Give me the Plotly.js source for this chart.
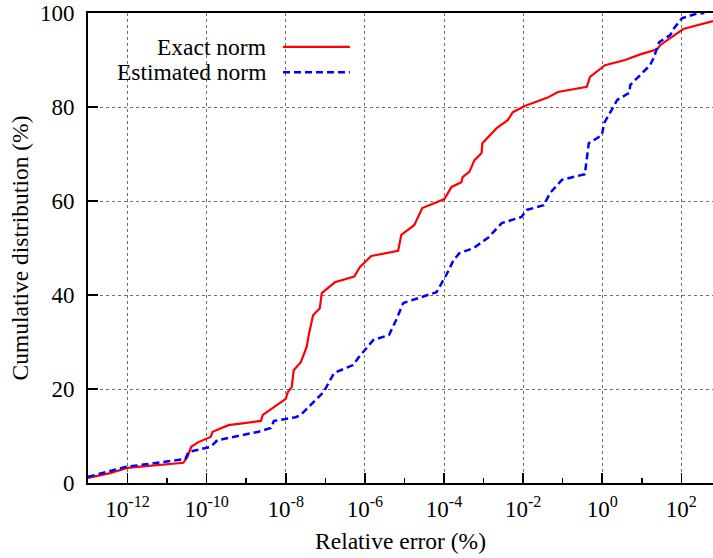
<!DOCTYPE html>
<html>
<head>
<meta charset="utf-8">
<script src="https://cdn.plot.ly/plotly-3.0.1.min.js"></script>
<style>html,body{margin:0;padding:0;background:#fff;}#chart{width:713px;height:558px;}</style>
</head>
<body>
<div id="chart"></div>
<script>
// Relative error given as decade exponent (log10 of %), cumulative distribution in %
const exactLogErr = [-13.0,-12.44,-12.01,-10.59,-10.49,-10.39,-10.21,-9.90,-9.85,-9.45,-8.63,-8.58,-8.00,-7.95,-7.85,-7.80,-7.62,-7.47,-7.42,-7.31,-7.14,-7.09,-6.76,-6.27,-6.12,-5.84,-5.16,-5.08,-4.75,-4.68,-4.55,-3.99,-3.81,-3.56,-3.53,-3.36,-3.23,-3.05,-3.03,-2.67,-2.39,-2.26,-1.96,-1.38,-1.12,-0.39,-0.31,0.07,0.58,0.96,1.39,1.47,2.05,2.8];
const exactCum = [1.1,2.1,3.2,4.3,5.5,7.7,8.7,9.8,10.9,12.3,13.2,14.5,17.9,19.3,20.4,24.0,25.7,29.0,31.5,35.7,37.2,40.4,42.7,43.9,46.0,48.3,49.4,52.8,54.9,56.2,58.5,60.4,63.0,64.0,65.1,66.2,68.7,70.2,72.3,75.5,77.2,78.9,80.2,82.0,83.2,84.3,86.4,88.9,90.0,91.2,92.3,93.2,96.6,98.3];
const estLogErr = [-13.0,-12.57,-12.06,-10.54,-10.46,-9.90,-9.73,-8.69,-8.38,-8.30,-7.75,-7.62,-7.37,-7.04,-6.78,-6.30,-6.17,-5.79,-5.39,-5.21,-5.03,-4.65,-4.19,-3.94,-3.76,-3.61,-3.25,-2.87,-2.54,-2.04,-1.91,-1.48,-1.32,-1.02,-0.44,-0.34,-0.21,-0.01,0.05,0.38,0.68,0.71,1.21,1.31,1.39,1.44,1.72,1.82,2.02,2.36,2.58];
const estCum = [1.3,2.3,3.4,5.1,6.6,7.7,9.1,10.9,11.7,13.2,14.0,14.5,16.6,19.4,23.4,25.1,26.6,30.4,31.5,34.7,38.3,39.4,40.6,44.3,47.4,48.9,50.0,52.3,55.3,56.6,58.1,59.1,61.7,64.5,65.7,72.3,73.0,74.0,76.6,81.5,83.0,84.7,88.9,90.6,92.8,93.8,95.3,96.8,98.9,99.8,100];
const seriesNames = ["Exact norm", "Estimated norm"];
const xMajorExp = [-12, -10, -8, -6, -4, -2, 0, 2];
const xTickText = ["10<sup>-12</sup>","10<sup>-10</sup>","10<sup>-8</sup>","10<sup>-6</sup>","10<sup>-4</sup>","10<sup>-2</sup>","10<sup>0</sup>","10<sup>2</sup>"];
const xMinorExp = [-13, -11, -9, -7, -5, -3, -1, 1];
const yTickVals = [0, 20, 40, 60, 80, 100];

const toVal = a => a.map(e => Math.pow(10, e));
const FONT = "'Liberation Serif', 'Times New Roman', serif";
const FS = 23.5, TFS = 23;

const traces = [
  {x: toVal(exactLogErr), y: exactCum, name: seriesNames[0], mode: "lines",
   line: {color: "#ff0000", width: 2.2}, showlegend: false},
  {x: toVal(estLogErr), y: estCum, name: seriesNames[1], mode: "lines",
   line: {color: "#0000ff", width: 2.5, dash: "7px,4px"}, showlegend: false}
];

const legX0 = 0.312, legX1 = 0.419, legY = [0.928, 0.874];
const layout = {
  width: 713, height: 558,
  margin: {l: 88, r: 0, t: 13, b: 75},
  paper_bgcolor: "#fff", plot_bgcolor: "#fff",
  font: {family: FONT, size: FS, color: "#000"},
  xaxis: {
    type: "log", range: [-13, 2.8],
    tickmode: "array", tickvals: toVal(xMajorExp), ticktext: xTickText,
    ticks: "inside", ticklen: 10, tickwidth: 1.5, tickcolor: "#000",
    ticklabelstandoff: 4,
    showline: true, linecolor: "#000", linewidth: 2, mirror: true,
    showgrid: true, gridcolor: "#707070", griddash: "dot", gridwidth: 1,
    minor: {tickmode: "array", tickvals: toVal(xMinorExp), ticks: "inside", ticklen: 5, tickwidth: 1.5, tickcolor: "#000", showgrid: false},
    zeroline: false,
    tickfont: {family: FONT, size: TFS},
    title: {text: "Relative error (%)", font: {family: FONT, size: FS}, standoff: 12}
  },
  yaxis: {
    range: [0, 100], tickvals: yTickVals,
    ticks: "inside", ticklen: 10, tickwidth: 1.5, tickcolor: "#000",
    ticklabelstandoff: 7,
    showline: true, linecolor: "#000", linewidth: 2,
    showgrid: true, gridcolor: "#707070", griddash: "dot", gridwidth: 1,
    zeroline: false,
    tickfont: {family: FONT, size: TFS},
    title: {text: "Cumulative distribution (%)", font: {family: FONT, size: FS}, standoff: 5}
  },
  shapes: [
    {type: "line", xref: "paper", yref: "paper", x0: legX0, x1: legX1, y0: legY[0], y1: legY[0],
     line: {color: "#ff0000", width: 2.2}},
    {type: "line", xref: "paper", yref: "paper", x0: legX0, x1: legX1, y0: legY[1], y1: legY[1],
     line: {color: "#0000ff", width: 2.5, dash: "7px,4px"}}
  ],
  annotations: [
    {xref: "paper", yref: "paper", x: 0.288, y: legY[0], xanchor: "right", yanchor: "middle",
     text: seriesNames[0], showarrow: false, font: {family: FONT, size: FS}},
    {xref: "paper", yref: "paper", x: 0.288, y: legY[1], xanchor: "right", yanchor: "middle",
     text: seriesNames[1], showarrow: false, font: {family: FONT, size: FS}}
  ]
};

Plotly.newPlot("chart", traces, layout, {displayModeBar: false, staticPlot: true});
</script>
</body>
</html>
